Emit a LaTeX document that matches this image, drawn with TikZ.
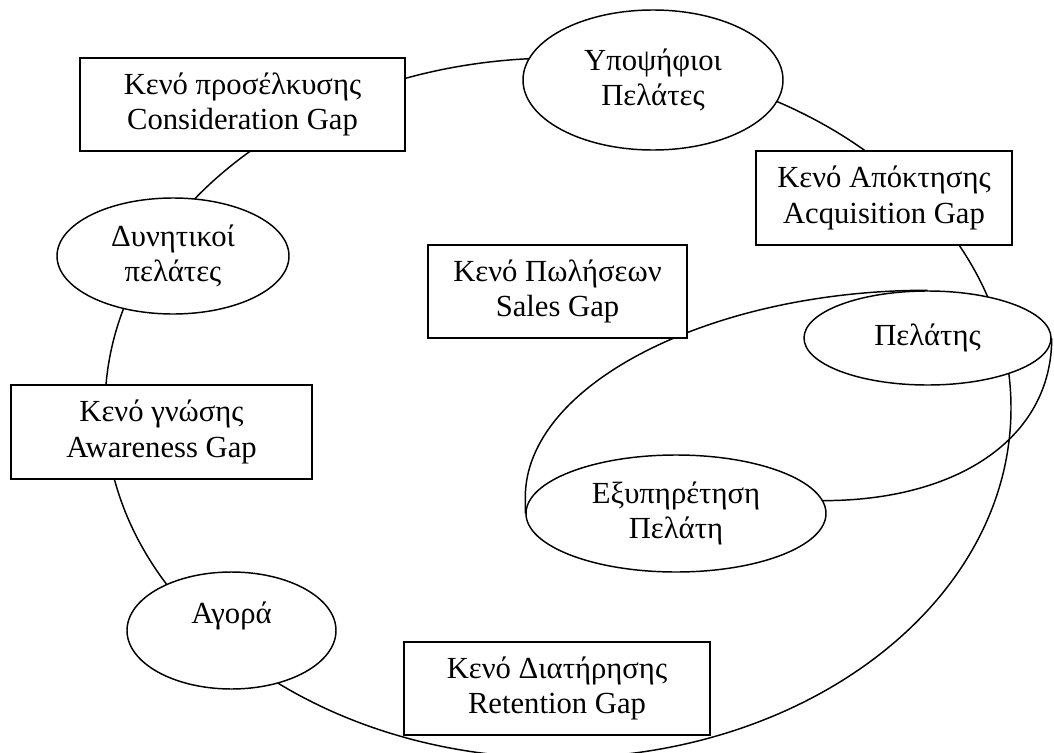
\documentclass[tikz,border=0pt]{standalone}
\usepackage{fontspec}
\setmainfont{Liberation Serif}
\usetikzlibrary{shapes.geometric,backgrounds}
\begin{document}
\begin{tikzpicture}[x=0.75pt,y=-0.75pt,
  every node/.style={font=\fontsize{23}{26.5}\selectfont, align=center, inner sep=0pt},
  gap/.style={draw, fill=white, line width=1.1pt, rectangle},
  stage/.style={draw, fill=white, line width=1.1pt, ellipse},
  ring/.style={line width=1.1pt}]
\useasboundingbox (0,0) rectangle (1054,753);

% gaps (boxes)
\node[gap, minimum width=243.75pt, minimum height=69.75pt] (cons)  at (242.5,104.5) {Κενό προσέλκυσης\\Consideration Gap};
\node[gap, minimum width=225.75pt, minimum height=70.5pt]  (aware) at (161.5,432)   {Κενό γνώσης\\Awareness Gap};
\node[gap, minimum width=192pt,    minimum height=70.5pt]  (acq)   at (884,198)     {Κενό Απόκτησης\\Acquisition Gap};
\node[gap, minimum width=194.25pt, minimum height=69.75pt] (sales) at (557.5,291.5) {Κενό Πωλήσεων\\Sales Gap};
\node[gap, minimum width=229.5pt,  minimum height=69.75pt] (ret)   at (557,688.5)   {Κενό Διατήρησης\\Retention Gap};

% stages (ellipses)
\node[stage, minimum width=195pt,    minimum height=105pt]   (ypo)   at (653,80)      {Υποψήφιοι\\Πελάτες};
\node[stage, minimum width=174pt,    minimum height=87pt]    (dyn)   at (173,256)     {Δυνητικοί\\πελάτες};
\node[stage, minimum width=156.75pt, minimum height=87.75pt, text depth=26pt] (agora) at (231.5,630.5) {Αγορά};
\node[stage, minimum width=185.25pt, minimum height=70.5pt]  (pel)   at (927.5,338)   {Πελάτης};
\node[stage, minimum width=225pt,    minimum height=87.75pt] (ex)    at (676,513.5)   {Εξυπηρέτηση\\Πελάτη};

\begin{scope}[on background layer]
  % the outer cycle through all stages and gaps
  \coordinate (hub) at (558,408);
  \draw[ring] (hub) ellipse [x radius=339.75pt, y radius=262.5pt];
  % service loop between customer and customer service
  \draw[ring] (ex.west) -- ++(0,-16) .. controls +(0,-114) and +(-215,0) .. (pel.north);
  \draw[ring] (ex.5) .. controls +(135,0) and +(0,100) .. (pel.east);
\end{scope}
\end{tikzpicture}
\end{document}
